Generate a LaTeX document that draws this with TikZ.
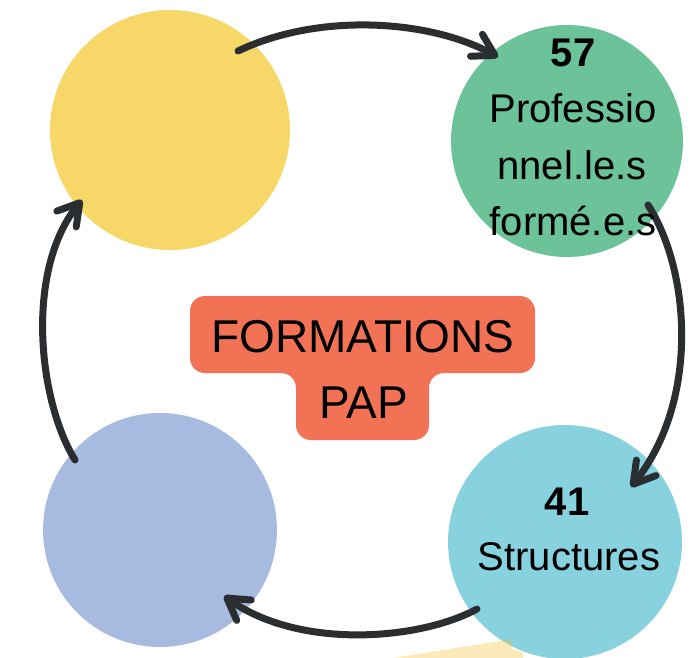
\documentclass[tikz,border=0pt]{standalone}
\usepackage{fontspec}
\setmainfont{Liberation Sans}
\usetikzlibrary{arrows.meta}
\definecolor{cyellow}{HTML}{F7D768}
\definecolor{cgreen}{HTML}{6CC299}
\definecolor{ccyan}{HTML}{88D2E0}
\definecolor{clav}{HTML}{A7BAE0}
\definecolor{corange}{HTML}{F27256}
\definecolor{cdark}{HTML}{2B2E31}
\definecolor{cstrip}{HTML}{F5C63A}
\begin{document}
\begin{tikzpicture}[x=1pt,y=-1pt,
  blob/.style={circle, inner sep=0pt},
  flow/.style={draw=cdark, line width=7pt, line cap=round, -{Straight Barb[length=21pt,width=25pt,round]}},
  lbl/.style={anchor=base, inner sep=0pt, text=black, font=\fontsize{40}{48}\selectfont},
  big/.style={anchor=base, inner sep=0pt, text=black, font=\fontsize{46}{56}\selectfont},
]
\useasboundingbox (0,0) rectangle (696,658);
% blobs
\node[blob, fill=cyellow, minimum size=240pt] (yellow) at (170,130) {};
\node[blob, fill=cgreen, minimum size=232pt] (green) at (567,141) {};
\node[blob, fill=ccyan, minimum size=234pt] (cyan) at (565,542) {};
\node[blob, fill=clav, minimum size=234pt] (lav) at (160,530) {};
% light strip at bottom
\fill[cstrip, opacity=0.35] (393,658) -- (493,642) -- (511,639) -- (512,649) -- (523,652) -- (523,658) -- cycle;
% centre shape
\fill[corange, rounded corners=15pt] (362,296) -- (535,296) -- (535,373) -- (429,373) -- (429,440) -- (296,440) -- (296,373) -- (190,373) -- (190,296) -- cycle;
% arrow ends
\coordinate (a1s) at (238,51);
\coordinate (a1e) at (498,57);
\coordinate (a2s) at (648,205);
\coordinate (a2e) at (631,487);
\coordinate (a3s) at (477,609);
\coordinate (a3e) at (224,596);
\coordinate (a4s) at (75,460);
\coordinate (a4e) at (82,200);
\draw[flow] (a1s) .. controls (320,12) and (430,20) .. (a1e);
\draw[flow] (a2s) .. controls (690,270) and (700,400) .. (a2e);
\draw[flow] (a3s) .. controls (420,640) and (300,650) .. (a3e);
\draw[flow] (a4s) .. controls (38,400) and (25,270) .. (a4e);
% texts
\node[lbl, font=\fontsize{40}{48}\selectfont\bfseries] (g1) at (573,67) {57};
\node[lbl] (g2) at (573,123) {Professio};
\node[lbl] (g3) at (572,179) {nnel.le.s};
\node[lbl] (g4) at (573,235) {formé.e.s};
\node[lbl, font=\fontsize{40}{48}\selectfont\bfseries] (c1) at (567,515) {41};
\node[lbl] (c2) at (569,570) {Structures};
\node[big] (t1) at (363,352) {FORMATIONS};
\node[big] (t2) at (364,418) {PAP};
\end{tikzpicture}
\end{document}
